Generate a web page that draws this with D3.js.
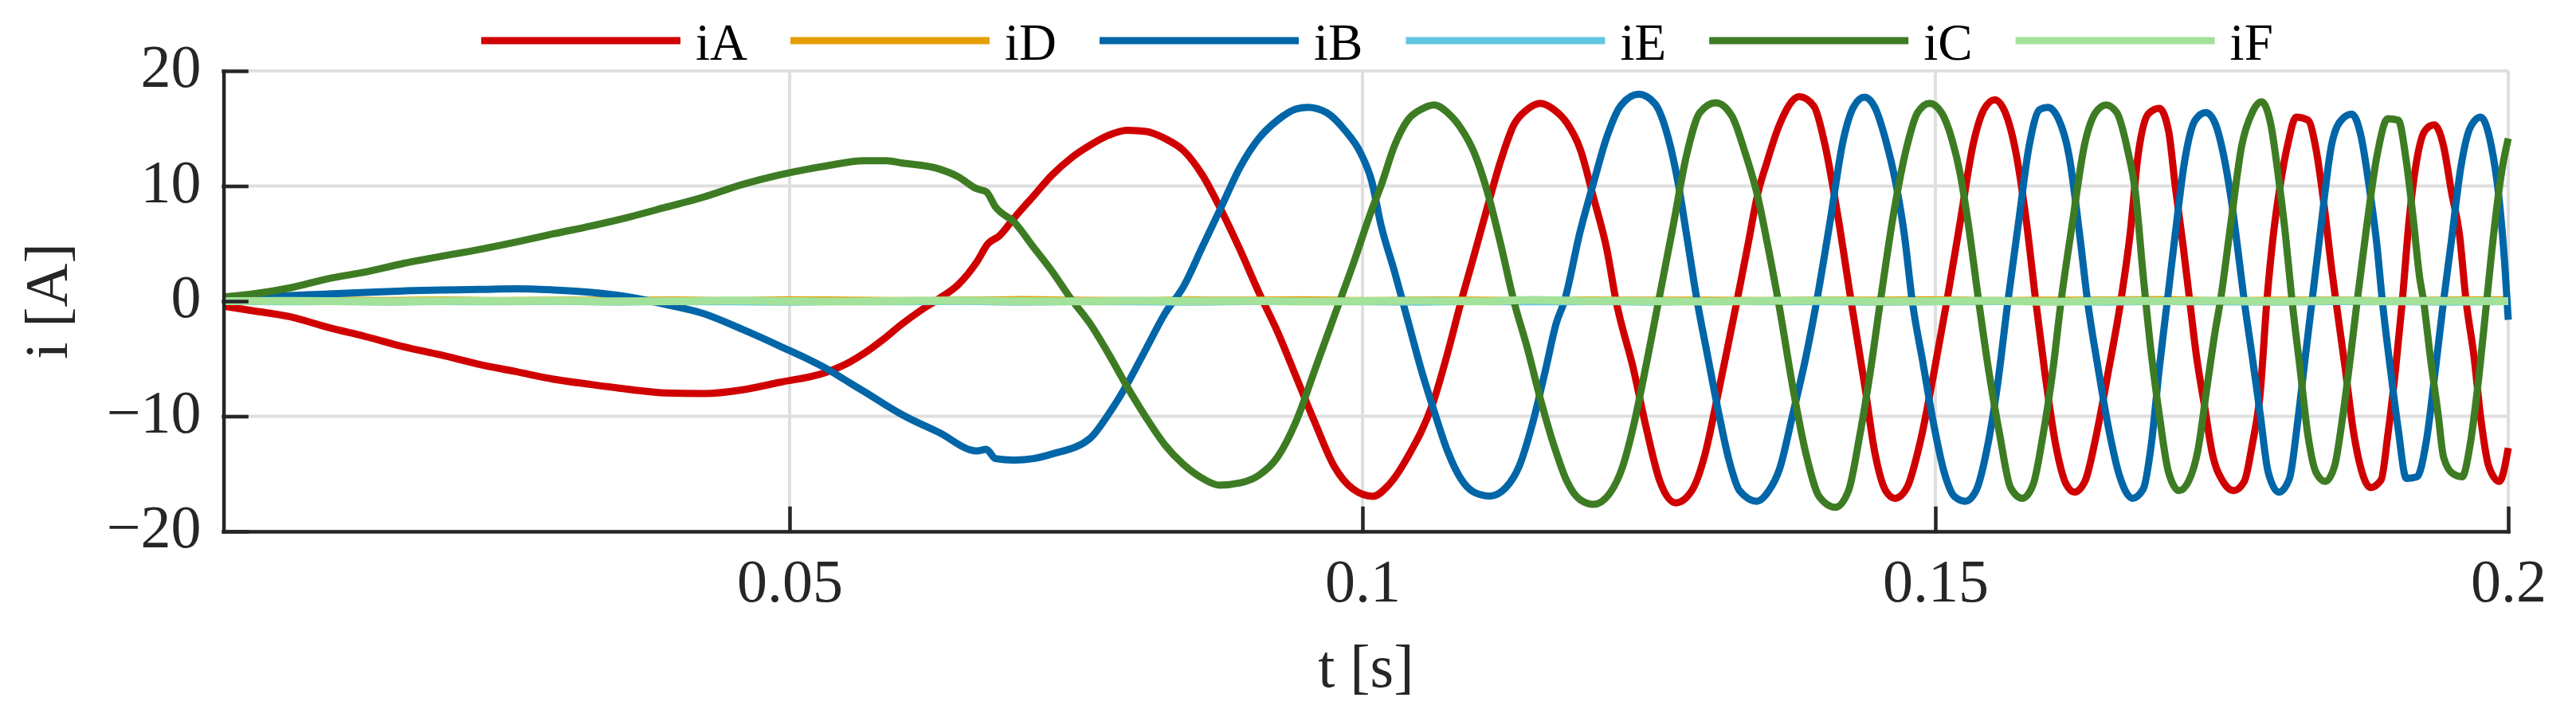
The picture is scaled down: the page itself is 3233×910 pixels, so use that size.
<!DOCTYPE html>
<meta charset="utf-8">
<style>
 body { margin: 0; background: #fff; }
 svg { display: block; background: #fff; }
 text { font-family: "Liberation Serif", "Times New Roman", serif; }
 .grid line { stroke: #dfdfdf; stroke-width: 4px; }
 .axis path, .axis line { stroke: #262626; stroke-width: 4.5px; stroke-linecap: square; }
 .axis text { font-size: 76px; fill: #262626; }
 .curve { fill: none; stroke-width: 9px; stroke-linejoin: round; }
</style>
<svg width="3233" height="910"></svg>
<script src="https://cdn.jsdelivr.net/npm/d3@7"></script>
<script>

 // [t (s), i (A)]
 var iA = [[0.0006,-0.43],[0.00314,-0.83],[0.00643,-1.36],[0.00971,-2.28],[0.0130,-3.08],[0.01627,-3.95],
   [0.01954,-4.67],[0.02283,-5.47],[0.02611,-6.12],[0.0294,-6.78],[0.03268,-7.24],[0.03596,-7.66],[0.03924,-7.98],
   [0.04252,-8.03],[0.0458,-7.72],[0.04909,-7.06],[0.05321,-6.18],[0.05518,-5.33],[0.0565,-4.54],[0.05814,-3.35],
   [0.05978,-2.01],[0.06142,-0.82],[0.06306,0.23],[0.0647,1.42],[0.06634,3.41],[0.06732,5.0],[0.0683,5.66],
   [0.06962,7.25],[0.07126,9.10],[0.0729,10.95],[0.07454,12.41],[0.07618,13.52],[0.07782,14.40],[0.07947,14.85],
   [0.08111,14.74],[0.08275,14.13],[0.08439,13.07],[0.08603,10.95],[0.08767,7.91],[0.08931,4.47],[0.09095,0.77],
   [0.09259,-2.67],[0.09424,-6.65],[0.09588,-10.63],[0.09752,-14.33],[0.09916,-16.31],[0.1009,-16.95],
   [0.10232,-15.93],[0.10394,-13.54],[0.10626,-8.51],[0.10742,-4.54],[0.10857,-0.17],[0.10973,3.94],[0.1109,8.17],
   [0.11205,12.15],[0.11321,15.32],[0.11437,16.65],[0.11553,17.18],[0.11669,16.65],[0.11785,15.46],[0.119,13.2],
   [0.12017,8.97],[0.12133,4.47],[0.12214,-0.03],[0.12364,-5.86],[0.1248,-11.16],[0.12596,-15.66],[0.12735,-17.52],
   [0.12874,-16.46],[0.1299,-13.28],[0.13083,-9.04],[0.13176,-4.54],[0.13268,0],[0.13361,4.73],[0.13454,9.5],
   [0.13524,11.88],[0.13639,15.32],[0.13813,17.76],[0.13941,16.91],[0.14033,13.73],[0.14149,7.38],[0.14265,-0.03],
   [0.14381,-7.19],[0.14474,-13.28],[0.14566,-16.46],[0.14647,-17.12],[0.14752,-16.19],[0.14868,-12.22],
   [0.14984,-6.39],[0.1510,0],[0.15216,6.85],[0.15332,13.73],[0.15424,16.65],[0.15517,17.5],[0.1561,16.38],
   [0.15702,12.94],[0.15795,6.85],[0.15876,0],[0.15958,-6.39],[0.1605,-12.48],[0.16143,-15.93],[0.16213,-16.59],
   [0.16305,-15.66],[0.16398,-11.95],[0.16514,-5.86],[0.16618,0],[0.16699,5.79],[0.16769,12.67],[0.16861,16.3],
   [0.16954,16.75],[0.17035,14.8],[0.17093,10.03],[0.17163,4.73],[0.1722,0],[0.17279,-4.8],[0.17348,-9.04],
   [0.17418,-13.28],[0.1751,-15.66],[0.17603,-16.46],[0.17696,-15.66],[0.17765,-12.48],[0.17835,-7.98],
   [0.17893,0],[0.1795,5.79],[0.18009,10.03],[0.18078,13.73],[0.18148,15.99],[0.18252,15.72],[0.18322,13.2],
   [0.18391,8.44],[0.18461,2.61],[0.18496,0],[0.18577,-5.86],[0.18646,-11.16],[0.18716,-14.6],[0.18797,-16.19],
   [0.1889,-15.53],[0.18948,-11.69],[0.19017,-5.86],[0.19075,0],[0.19133,6.85],[0.19191,11.62],[0.19272,14.8],
   [0.19353,15.32],[0.19435,13.47],[0.19504,9.5],[0.19574,5.79],[0.19632,0],[0.19701,-4.8],[0.19759,-10.1],
   [0.19829,-14.33],[0.19922,-15.66],[0.2,-12.75]];

 var iB = [[0.0006,0.1],[0.00314,0.28],[0.00643,0.49],[0.00971,0.62],[0.0130,0.76],[0.01627,0.89],[0.01954,0.97],
   [0.02283,1.02],[0.02611,1.08],[0.0294,0.97],[0.03268,0.76],[0.03596,0.36],[0.03924,-0.30],[0.04252,-1.09],
   [0.0458,-2.42],[0.04909,-3.88],[0.05321,-5.86],[0.05518,-7.05],[0.0565,-7.85],[0.05978,-9.84],[0.06306,-11.42],
   [0.06634,-13.01],[0.06716,-12.88],[0.06798,-13.68],[0.06962,-13.81],[0.07126,-13.68],[0.0729,-13.28],
   [0.07618,-11.95],[0.07782,-9.84],[0.07947,-7.19],[0.08111,-4.14],[0.08275,-1.09],[0.08439,1.29],[0.08603,4.73],
   [0.08767,8.17],[0.08931,11.62],[0.09095,14.13],[0.09259,15.72],[0.09424,16.70],[0.09521,16.83],[0.09686,16.38],
   [0.09851,14.79],[0.09982,12.9],[0.10081,10.4],[0.10162,6.59],[0.10278,2.62],[0.10394,-1.62],[0.1051,-5.86],
   [0.10626,-9.57],[0.10742,-13.01],[0.10857,-15.4],[0.10973,-16.59],[0.11113,-16.93],[0.11252,-16.19],
   [0.11368,-14.33],[0.11484,-10.63],[0.116,-5.86],[0.11692,-1.89],[0.11762,0],[0.119,6.06],[0.12017,10.29],
   [0.12133,14.27],[0.12249,16.91],[0.1241,17.97],[0.1255,17.18],[0.12666,14.27],[0.12759,10.03],[0.12828,5.79],
   [0.12921,0],[0.13013,-4.8],[0.13106,-9.57],[0.13199,-13.81],[0.13291,-16.46],[0.13442,-17.38],[0.13547,-16.46],
   [0.13639,-14.6],[0.13755,-9.84],[0.13871,-4.8],[0.13964,0],[0.1408,6.85],[0.14196,14.0],[0.14288,16.91],
   [0.14381,17.71],[0.14474,16.78],[0.14566,14.0],[0.14659,10.03],[0.14729,5.79],[0.14798,0],[0.14891,-5.33],
   [0.14984,-10.63],[0.15077,-14.87],[0.15169,-16.99],[0.15262,-17.38],[0.15355,-16.46],[0.15447,-13.01],
   [0.1554,-7.45],[0.15633,0],[0.15726,6.85],[0.15818,13.47],[0.15911,16.65],[0.15981,16.83],[0.16073,15.85],
   [0.16166,12.67],[0.16259,5.79],[0.16328,0],[0.16421,-5.86],[0.16514,-11.16],[0.16606,-15.13],[0.16722,-17.12],
   [0.16815,-16.3],[0.16884,-12.48],[0.16954,-5.86],[0.17024,0],[0.17093,5.79],[0.17175,12.15],[0.17267,15.72],
   [0.1736,16.38],[0.17441,15.46],[0.1751,12.94],[0.1758,8.97],[0.1765,3.67],[0.17696,0],[0.17765,-4.8],
   [0.17835,-9.84],[0.17905,-14.87],[0.17997,-16.59],[0.1809,-15.4],[0.1816,-10.63],[0.18229,-4.8],[0.18287,0],
   [0.18357,5.79],[0.18461,13.73],[0.18554,15.85],[0.18635,16.25],[0.18716,14.27],[0.18785,10.03],[0.18855,4.73],
   [0.18901,0],[0.18971,-5.86],[0.1904,-11.16],[0.1911,-15.4],[0.19203,-15.26],[0.19284,-12.22],[0.19365,-5.86],
   [0.19435,0],[0.19504,5.26],[0.19586,11.62],[0.19667,15.06],[0.19759,15.99],[0.19852,13.47],[0.19922,8.7],
   [0.19968,3.41],[0.2,-1.62]];

 var iC = [[0.0006,0.36],[0.00314,0.62],[0.00643,1.16],[0.00971,1.95],[0.0130,2.53],[0.01627,3.27],[0.01954,3.88],
   [0.02283,4.47],[0.02611,5.13],[0.0294,5.85],[0.03268,6.53],[0.03596,7.30],[0.03924,8.17],[0.04252,9.05],
   [0.0458,10.11],[0.04909,10.96],[0.05321,11.75],[0.0565,12.20],[0.05847,12.2],[0.05978,12.01],[0.06306,11.48],
   [0.0647,10.82],[0.06634,9.76],[0.06716,9.50],[0.06798,8.17],[0.06962,6.85],[0.07126,4.73],[0.0729,2.61],
   [0.07454,0.23],[0.07618,-1.89],[0.07782,-4.54],[0.07947,-7.45],[0.08111,-10.10],[0.08275,-12.48],
   [0.08439,-14.20],[0.08603,-15.39],[0.08751,-15.98],[0.08931,-15.79],[0.09095,-15.13],[0.09259,-13.54],
   [0.09424,-10.36],[0.09588,-5.86],[0.09752,-1.35],[0.09916,3.14],[0.1008,7.91],[0.10162,10.03],[0.10278,13.47],
   [0.10394,15.72],[0.1051,16.65],[0.10626,17.05],[0.10742,16.38],[0.10857,15.06],[0.10973,12.94],[0.1109,9.5],
   [0.11205,5.0],[0.11321,0],[0.11437,-4.01],[0.11553,-8.51],[0.11669,-12.48],[0.11785,-15.66],[0.119,-17.25],
   [0.12017,-17.65],[0.12156,-16.72],[0.12272,-14.33],[0.12364,-10.9],[0.1248,-5.33],[0.12584,0],[0.12712,6.59],
   [0.12828,12.67],[0.12944,16.38],[0.13083,17.23],[0.13222,16.12],[0.13338,12.94],[0.13454,8.9],[0.13524,5.5],
   [0.13639,-0.56],[0.13755,-7.45],[0.13871,-13.28],[0.13987,-16.99],[0.14126,-17.91],[0.14242,-16.46],
   [0.14335,-11.95],[0.14428,-6.39],[0.1452,0],[0.14636,7.64],[0.14752,13.47],[0.14845,16.38],[0.14949,17.18],
   [0.15053,16.38],[0.15146,14.0],[0.15216,11.09],[0.15285,6.85],[0.15378,0],[0.15471,-6.39],[0.15563,-11.69],
   [0.15656,-16.19],[0.1576,-17.12],[0.15853,-15.93],[0.15934,-11.95],[0.16027,-5.86],[0.16097,0],[0.16189,6.32],
   [0.16305,13.73],[0.16398,16.38],[0.1649,17.05],[0.16583,16.38],[0.16676,13.2],[0.16745,9.5],[0.16815,2.09],
   [0.16884,-4.54],[0.16954,-9.84],[0.17035,-14.87],[0.17128,-16.46],[0.17209,-15.66],[0.1729,-13.01],
   [0.17371,-7.45],[0.17441,-2.67],[0.17487,0],[0.1758,6.85],[0.17673,13.47],[0.17765,16.38],[0.17846,17.31],
   [0.17928,15.32],[0.17997,10.56],[0.18055,5.79],[0.18113,0],[0.18183,-5.86],[0.18252,-11.69],[0.18322,-14.87],
   [0.18403,-15.66],[0.18484,-14.33],[0.18554,-10.1],[0.18623,-4.8],[0.18681,0],[0.18762,6.32],[0.18855,12.67],
   [0.18948,15.85],[0.1904,15.72],[0.1911,12.15],[0.19168,7.38],[0.19226,2.09],[0.19261,0],[0.19319,-4.8],
   [0.19388,-9.84],[0.19435,-13.54],[0.19516,-14.99],[0.19597,-15.26],[0.19667,-12.48],[0.19736,-7.19],
   [0.19806,-0.56],[0.19875,6.06],[0.19944,11.35],[0.2,14.13]];

 // the three near-zero currents
 var tN = [0.0006,0.005,0.01,0.015,0.02,0.025,0.03,0.035,0.04,0.045,0.05,0.055,0.06,0.065,0.07,0.075,0.08,0.085,
   0.09,0.095,0.1,0.105,0.11,0.115,0.12,0.125,0.13,0.135,0.14,0.145,0.15,0.155,0.16,0.165,0.17,0.175,0.18,0.185,
   0.19,0.195,0.2];
 var iD = [0.02,0.05,0.08,0.06,0.1,0.05,0.09,0.08,0.1,0.05,0.12,0.08,0.05,0.1,0.13,0.08,0.05,0.1,0.08,0.12,0.05,
   0.1,0.08,0.05,0.1,0.08,0.09,0.05,0.1,0.08,0.12,0.05,0.08,0.1,0.14,0.05,0.08,0.1,0.05,0.1,0.12];
 var iE = [-0.02,-0.06,-0.04,-0.08,-0.04,-0.06,-0.02,-0.08,-0.04,-0.06,-0.08,-0.04,-0.06,-0.02,-0.08,-0.04,
   -0.06,-0.08,-0.04,-0.02,-0.06,-0.08,-0.04,-0.06,-0.04,-0.08,-0.02,-0.06,-0.04,-0.08,-0.06,-0.04,-0.02,-0.08,
   -0.04,-0.06,-0.08,-0.04,-0.06,-0.08,-0.04];
 var iF = [0,0.02,0,-0.03,0.02,0,0.03,-0.02,0,0.05,0,-0.03,0.02,0.05,0,-0.02,0.03,0,0.02,-0.03,0,0.04,-0.02,
   0.1,0.02,0,-0.03,0.02,0.05,-0.02,0,0.03,-0.05,0.02,0,0.03,-0.02,0.05,0,0.02,0];

 var names  = ["iA", "iD", "iB", "iE", "iC", "iF"];
 var colors = ["#d00000", "#e69f00", "#0066a8", "#62c6e2", "#3e7c24", "#a3e29a"];

 var xTicks = [0.05, 0.1, 0.15, 0.2];
 var xTickLabels = ["0.05", "0.1", "0.15", "0.2"];
 var yTicks = [-20, -10, 0, 10, 20];
 var yTickLabels = ["\u221220", "\u221210", "0", "10", "20"];

 function zip(t, v) { return t.map(function(d, i) { return [d, v[i]]; }); }
 var seriesData = {
   iA: iA, iB: iB, iC: iC,
   iD: zip(tN, iD), iE: zip(tN, iE), iF: zip(tN, iF)
 };

 var svg = d3.select("svg");
 var plotL = 280.6, plotR = 3148, plotT = 89, plotB = 667;

 var x = d3.scaleLinear().domain([0.0006, 0.2]).range([plotL, plotR]);
 var y = d3.scaleLinear().domain([-20, 20]).range([plotB, plotT]);

 // grid
 var grid = svg.append("g").attr("class", "grid");
 grid.selectAll(".gx").data(xTicks).enter().append("line")
     .attr("x1", function(d) { return x(d); }).attr("x2", function(d) { return x(d); })
     .attr("y1", plotT).attr("y2", plotB);
 grid.selectAll(".gy").data(yTicks).enter().append("line")
     .attr("x1", plotL).attr("x2", plotR)
     .attr("y1", function(d) { return y(d); }).attr("y2", function(d) { return y(d); });

 // curves
 var line = d3.line()
              .x(function(d) { return x(d[0]); })
              .y(function(d) { return y(d[1]); })
              .curve(d3.curveMonotoneX);

 svg.append("g").selectAll("path")
    .data(names)
    .enter().append("path")
    .attr("class", "curve")
    .attr("stroke", function(d, i) { return colors[i]; })
    .style("stroke-width", function(d) { return d == "iF" ? "10px" : null; })
    .attr("d", function(d) { return line(seriesData[d]); });

 // axes, ticks pointing inward
 var xAxis = svg.append("g")
                .attr("class", "axis")
                .attr("transform", "translate(0," + plotB + ")")
                .call(d3.axisBottom(x).tickValues(xTicks)
                        .tickFormat(function(d, i) { return xTickLabels[i]; })
                        .tickSizeInner(-29).tickSizeOuter(0));
 xAxis.selectAll("text").attr("y", 88).attr("dy", null);

 var yAxis = svg.append("g")
                .attr("class", "axis")
                .attr("transform", "translate(" + plotL + ",0)")
                .call(d3.axisLeft(y).tickValues(yTicks)
                        .tickFormat(function(d, i) { return yTickLabels[i]; })
                        .tickSizeInner(-29).tickSizeOuter(0));
 yAxis.selectAll("text").attr("x", -28).attr("dy", null).attr("y", 19.5);
 svg.selectAll(".axis").attr("font-family", null).attr("font-size", null);

 // axis labels
 svg.append("text")
    .attr("x", (plotL + plotR) / 2).attr("y", 862)
    .attr("text-anchor", "middle")
    .style("font-size", "76px").style("fill", "#262626")
    .text("t [s]");

 svg.append("text")
    .attr("transform", "translate(84," + (plotT + plotB) / 2 + ") rotate(-90)")
    .attr("text-anchor", "middle")
    .style("font-size", "76px").style("fill", "#262626")
    .text("i [A]");

 // legend across the top
 var legend = svg.append("g");
 var lx = 604;
 names.forEach(function(n, i) {
   legend.append("line")
         .attr("x1", lx).attr("x2", lx + 250)
         .attr("y1", 51).attr("y2", 51)
         .attr("stroke", colors[i]).attr("stroke-width", 9);
   var label = legend.append("text")
                     .attr("x", lx + 269).attr("y", 75)
                     .style("font-size", "65px").style("fill", "#000")
                     .text(n);
   lx += 269 + label.node().getComputedTextLength() + 54;
 });
</script>
